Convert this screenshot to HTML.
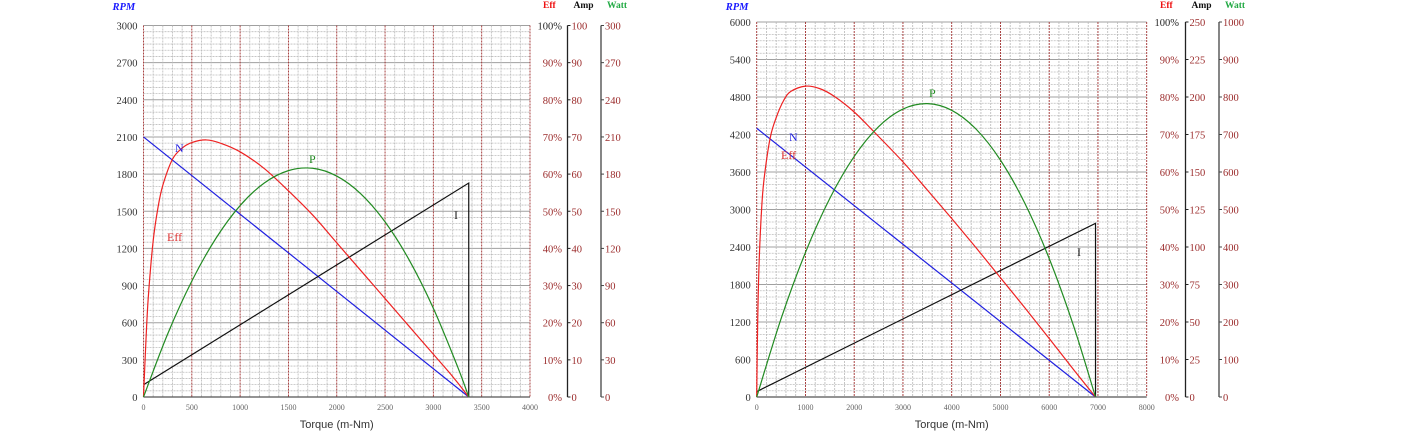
<!DOCTYPE html>
<html><head><meta charset="utf-8"><style>
html,body{margin:0;padding:0;background:#fff;width:1407px;height:442px;overflow:hidden}
svg{display:block}
</style></head><body>
<svg id="root" width="1407" height="442" xmlns="http://www.w3.org/2000/svg"></svg>
<script>
// ===== Chart A data (left) =====
const aXTicks = [0,500,1000,1500,2000,2500,3000,3500,4000];
const aRpmTicks = [0,300,600,900,1200,1500,1800,2100,2400,2700,3000];
const aEffTicks = ["0%","10%","20%","30%","40%","50%","60%","70%","80%","90%","100%"];
const aAmpTicks = [0,10,20,30,40,50,60,70,80,90,100];
const aWattTicks = [0,30,60,90,120,150,180,210,240,270,300];
const aSpeedT = [0,3366];
const aSpeedN = [2100,0];
const aCurT = [0,3366,3366];
const aCurI = [3.3,57.6,0];
const aEffT = [0,25,50,100,150,200,300,400,500,650,800,1000,1250,1500,1750,2000,2250,2500,2750,3000,3200,3366];
const aEffV = [0,15,27,42,51,57,64,67,68.5,69.2,68.3,66,61.5,55.5,49,41.5,34,26.5,19,11.5,5.5,0];
const aPowT = [0,250,500,750,1000,1250,1500,1750,2000,2250,2500,2750,3000,3250,3366];
const aPowW = [0,50.9,93.6,128.2,154.6,172.8,182.8,184.7,178.4,164,141.4,110.6,71.6,24.6,0];

// ===== Chart B data (right) =====
const bXTicks = [0,1000,2000,3000,4000,5000,6000,7000,8000];
const bRpmTicks = [0,600,1200,1800,2400,3000,3600,4200,4800,5400,6000];
const bEffTicks = ["0%","10%","20%","30%","40%","50%","60%","70%","80%","90%","100%"];
const bAmpTicks = [0,25,50,75,100,125,150,175,200,225,250];
const bWattTicks = [0,100,200,300,400,500,600,700,800,900,1000];
const bSpeedT = [0,6950];
const bSpeedN = [4300,0];
const bCurT = [0,6950,6950];
const bCurI = [3.6,115.8,0];
const bEffT = [0,20,50,100,150,275,400,550,700,1000,1300,1600,2000,2400,3000,3500,4000,4500,5000,5500,6000,6500,6950];
const bEffV = [0,20,36,50,58,69,74.5,79,81.5,82.9,82.2,80.1,76,70.8,62.7,55.2,47.6,39.8,31.8,23.8,15.6,7.3,0];
const bPowT = [0,500,1000,1500,2000,2500,3000,3500,4000,4500,5000,5500,6000,6500,6950];
const bPowW = [0,208.9,385.5,529.7,641.4,720.8,767.8,782.3,764.5,714.3,631.7,516.7,369.3,189.5,0];

const NS = "http://www.w3.org/2000/svg";
const root = document.getElementById('root');
function mk(tag, attrs, parent){ const e=document.createElementNS(NS,tag); for(const k in attrs) e.setAttribute(k,attrs[k]); (parent||root).appendChild(e); return e; }
function txt(s, attrs, parent){ const e=mk('text',attrs,parent); e.textContent=s; return e; }
const SERIF = '"Liberation Serif", serif';
const SANS = '"Liberation Sans", sans-serif';

function smoothPath(pts){
  let d = 'M'+pts[0][0].toFixed(2)+','+pts[0][1].toFixed(2);
  for(let i=0;i<pts.length-1;i++){
    const p0=pts[Math.max(0,i-1)], p1=pts[i], p2=pts[i+1], p3=pts[Math.min(pts.length-1,i+2)];
    const c1x=p1[0]+(p2[0]-p0[0])/6, c1y=p1[1]+(p2[1]-p0[1])/6;
    const c2x=p2[0]-(p3[0]-p1[0])/6, c2y=p2[1]-(p3[1]-p1[1])/6;
    d+=' C'+c1x.toFixed(2)+','+c1y.toFixed(2)+' '+c2x.toFixed(2)+','+c2y.toFixed(2)+' '+p2[0].toFixed(2)+','+p2[1].toFixed(2);
  }
  return d;
}

function drawChart(p){
  const g = mk('g',{});
  
  
  const x0=p.x0, x1=p.x1, yT=p.yTop, yB=p.yBot;
  const xMax=p.xTicks[p.xTicks.length-1];
  const rMax=p.rpmTicks[p.rpmTicks.length-1];
  const aMax=p.ampTicks[p.ampTicks.length-1];
  const wMax=p.wattTicks[p.wattTicks.length-1];
  const sx = t => x0 + (x1-x0)*t/xMax;
  const sR = v => yB - (yB-yT)*v/rMax;
  const sE = v => yB - (yB-yT)*v/100;
  const sA = v => yB - (yB-yT)*v/aMax;
  const sW = v => yB - (yB-yT)*v/wMax;

  const grid = mk('g',{},g);
  
  
  for(let i=0;i<=60;i++){
    const y=yT+(yB-yT)*i/60;
    const major = i%6===0;
    mk('line',{x1:x0,x2:x1,y1:y,y2:y,stroke:major?'#a0a0a0':'#bdbdbd','stroke-width':major?1:0.8,'stroke-dasharray':major?'':'2,1'},grid);
  }
  for(let i=0;i<=40;i++){
    const x=x0+(x1-x0)*i/40;
    const major=i%5===0;
    mk('line',{x1:x,x2:x,y1:yT,y2:yB,stroke:major?'#a03030':'#b8b8b8','stroke-width':major?0.9:0.8,'stroke-dasharray':'2,1'},grid);
  }
  mk('line',{x1:x0,x2:x1,y1:yB,y2:yB,stroke:'#555','stroke-width':1.2},grid);

  const yAx = mk('g',{},g);
  
  
  p.rpmTicks.forEach(v=>{ txt(String(v),{x:x0-6,y:sR(v)+4,'text-anchor':'end','font-family':SERIF,'font-size':10.5,fill:'#333'},yAx); });
  txt('RPM',{x:x0-31,y:10,'font-family':SERIF,'font-size':10.5,'font-weight':'bold','font-style':'italic',fill:'#1a1aff'},yAx);

  const xAx = mk('g',{},g);
  
  
  p.xTicks.forEach(v=>{ txt(String(v),{x:sx(v),y:yB+13,'text-anchor':'middle','font-family':SERIF,'font-size':8,fill:'#666'},xAx); });
  const xt = txt('Torque (m-Nm)',{x:(x0+x1)/2,y:yB+31,'text-anchor':'middle','font-family':SANS,'font-size':11,fill:'#333'},xAx);
  
  

  const eAx = mk('g',{},g);
  
  
  p.effTicks.forEach((s,i)=>{ txt(s,{x:p.effX,y:sE(i*10)+4,'text-anchor':'end','font-family':SERIF,'font-size':10.5,fill:i===10?'#222':'#9b2b2b'},eAx); });
  txt('Eff',{x:p.effX-19,y:8,'font-family':SERIF,'font-size':9.5,'font-weight':'bold',fill:'#ee1111'},eAx);

  const amAx = mk('g',{},g);
  
  
  mk('line',{x1:p.ampX,x2:p.ampX,y1:yT,y2:yB,stroke:'#222','stroke-width':1.3},amAx);
  p.ampTicks.forEach(v=>{ const y=sA(v); mk('line',{x1:p.ampX,x2:p.ampX+3,y1:y,y2:y,stroke:'#222','stroke-width':1},amAx); txt(String(v),{x:p.ampX+4,y:y+4,'font-family':SERIF,'font-size':10.5,fill:'#9b2b2b'},amAx); });
  txt('Amp',{x:p.ampX+6,y:8,'font-family':SERIF,'font-size':9.5,'font-weight':'bold',fill:'#111'},amAx);

  const wAx = mk('g',{},g);
  
  
  mk('line',{x1:p.wattX,x2:p.wattX,y1:yT,y2:yB,stroke:'#444','stroke-width':1.3},wAx);
  p.wattTicks.forEach(v=>{ const y=sW(v); mk('line',{x1:p.wattX,x2:p.wattX+3,y1:y,y2:y,stroke:'#444','stroke-width':1},wAx); txt(String(v),{x:p.wattX+4,y:y+4,'font-family':SERIF,'font-size':10.5,fill:'#9b2b2b'},wAx); });
  txt('Watt',{x:p.wattX+6,y:8,'font-family':SERIF,'font-size':9.5,'font-weight':'bold',fill:'#22aa44'},wAx);

  function line(ts, vs, sy, color, name, smooth){
    const pts = ts.map((t,i)=>[sx(t), sy(vs[i])]);
    let l;
    if(smooth){
      l = mk('path',{d:smoothPath(pts),fill:'none',stroke:color,'stroke-width':1.2},g);
    } else {
      l = mk('polyline',{points:pts.map(q=>q[0].toFixed(2)+','+q[1].toFixed(2)).join(' '),fill:'none',stroke:color,'stroke-width':1.2},g);
    }
    
    
  }
  line(p.speedT,p.speedN,sR,'#1f1fe0','speed-line',false);
  line(p.curT,p.curI,sA,'#111','current-line',false);
  line(p.effT,p.effV,sE,'#ee2222','efficiency-curve',true);
  line(p.powT,p.powW,sW,'#228b22','power-curve',true);

  const lab = (s,x,y,c,n)=>{ const t=txt(s,{x:x,y:y,'font-family':SERIF,'font-size':12,fill:c},g);   };
  lab('N',p.lab.N[0],p.lab.N[1],'#1f1fe0','n-label');
  lab('Eff',p.lab.E[0],p.lab.E[1],'#dd3333','eff-label');
  lab('P',p.lab.P[0],p.lab.P[1],'#228b22','p-label');
  lab('I',p.lab.I[0],p.lab.I[1],'#222','i-label');
}

drawChart({name:'chart-left',x0:143.5,x1:530,yTop:25.5,yBot:397,
  xTicks:aXTicks,rpmTicks:aRpmTicks,effTicks:aEffTicks,ampTicks:aAmpTicks,wattTicks:aWattTicks,
  speedT:aSpeedT,speedN:aSpeedN,curT:aCurT,curI:aCurI,effT:aEffT,effV:aEffV,powT:aPowT,powW:aPowW,
  effX:562,ampX:567.5,wattX:601,
  lab:{N:[175,152],E:[167,241],P:[309,163],I:[454,219]}});

drawChart({name:'chart-right',x0:756.7,x1:1146.7,yTop:22,yBot:397,
  xTicks:bXTicks,rpmTicks:bRpmTicks,effTicks:bEffTicks,ampTicks:bAmpTicks,wattTicks:bWattTicks,
  speedT:bSpeedT,speedN:bSpeedN,curT:bCurT,curI:bCurI,effT:bEffT,effV:bEffV,powT:bPowT,powW:bPowW,
  effX:1179,ampX:1185.5,wattX:1219,
  lab:{N:[789,141],E:[781,159],P:[929,97],I:[1077,256]}});
</script>
</body></html>
